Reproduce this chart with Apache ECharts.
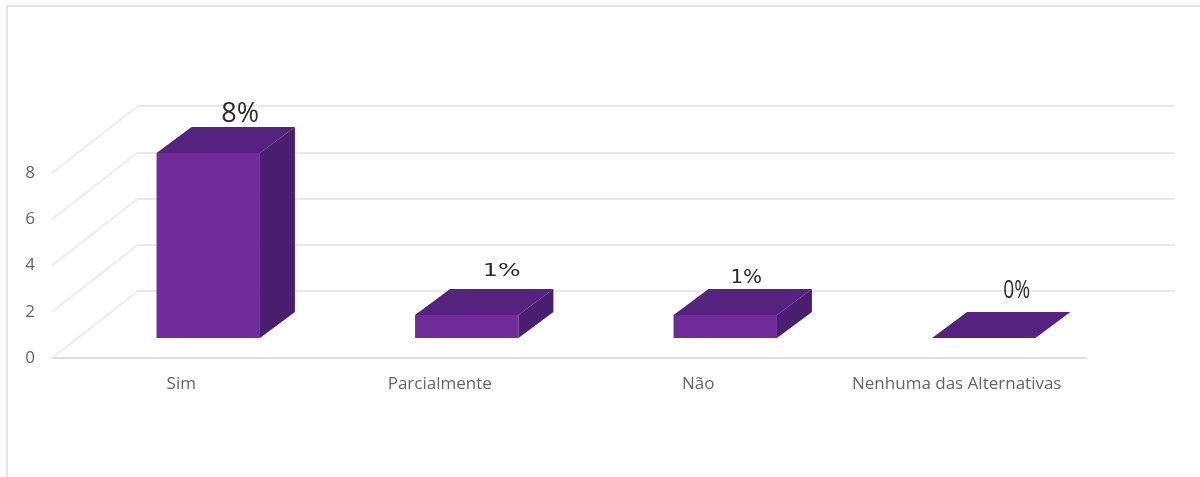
<!DOCTYPE html>
<html>
<head>
<meta charset="utf-8">
<style>html,body{margin:0;padding:0;background:#fff}#chart{width:1200px;height:477px}</style>
<script src="https://cdn.jsdelivr.net/npm/echarts@6/dist/echarts.min.js"></script>
</head>
<body>
<div id="chart"></div>
<script>
const categories = ['Sim', 'Parcialmente', 'Não', 'Nenhuma das Alternativas'];
const percentages = [8, 1, 1, 0];
const yTicks = [0, 2, 4, 6, 8];

// Per-label typography and placement, relative to the front-top centre of each box
const labelStyles = [
  { font: '"Open Sans"', size: 27, scaleX: 1, dx: 32, dy: -39 },
  { font: '"DejaVu Sans"', size: 17, scaleX: 1.4, dx: 35, dy: -43 },
  { font: '"DejaVu Sans"', size: 20, scaleX: 1, dx: 21, dy: -37 },
  { font: '"Open Sans"', size: 25, scaleX: 0.77, dx: 33, dy: -47 }
];

// Oblique projection offsets
const ROOM_DX = 86, ROOM_DY = -67;
const BOX_DX = 35, BOX_DY = -26;
const FRONT = '#6f2c9a', TOP = '#55227f', SIDE = '#4a1f70';
const GRID_LINE = '#e9e9e9', DIAG_LINE = '#efecef', AXIS_TEXT = '#62666a';

const chart = echarts.init(document.getElementById('chart'), null, { renderer: 'canvas' });

function renderDiagonal(params, api) {
  const p = api.coord([0, api.value(0)]);
  const x = params.coordSys.x;
  return {
    type: 'line',
    shape: { x1: x, y1: p[1], x2: x + ROOM_DX, y2: p[1] + ROOM_DY },
    style: { stroke: DIAG_LINE, lineWidth: 2 }
  };
}

function renderBox(params, api) {
  const idx = api.value(0), val = api.value(1);
  const top = api.coord([idx, val]);
  const base = api.coord([idx, 0]);
  const w = api.size([1, 0])[0] * 0.4;
  const l = top[0] - w / 2, r = top[0] + w / 2;
  const t = top[1], b = base[1];
  const poly = (points, fill) => ({
    type: 'polygon', shape: { points }, style: { fill }
  });
  const ls = labelStyles[params.dataIndex];
  return {
    type: 'group',
    children: [
      poly([[r, t], [r + BOX_DX, t + BOX_DY], [r + BOX_DX, b + BOX_DY], [r, b]], SIDE),
      poly([[l, t], [l + BOX_DX, t + BOX_DY], [r + BOX_DX, t + BOX_DY], [r, t]], TOP),
      poly([[l, t], [r, t], [r, b], [l, b]], FRONT),
      {
        type: 'text',
        x: top[0] + ls.dx, y: t + ls.dy,
        scaleX: ls.scaleX,
        style: {
          text: percentages[params.dataIndex] + '%',
          fontFamily: ls.font, fontSize: ls.size,
          fill: '#2b2b2b', align: 'center', verticalAlign: 'middle'
        }
      }
    ]
  };
}

const hiddenCat = gridIndex => ({
  type: 'category', gridIndex, data: categories, show: false
});
const hiddenVal = (gridIndex, splitShow) => ({
  type: 'value', gridIndex, min: 0, max: 8, interval: 2,
  axisLine: { show: false }, axisTick: { show: false }, axisLabel: { show: false },
  splitLine: { show: splitShow, lineStyle: { color: GRID_LINE, width: 2 } }
});

chart.setOption({
  animation: false,
  backgroundColor: '#ffffff',
  graphic: [{
    type: 'rect', silent: true, z: -1,
    shape: { x: 7, y: 6, width: 1300, height: 600 },
    style: { fill: 'none', stroke: '#e4e4e4', lineWidth: 2 }
  }],
  grid: [
    // front plane: carries the axis labels and the floor edge
    { left: 52, top: 173, width: 1034, height: 185 },
    // back wall: carries the horizontal gridlines
    { left: 138, top: 106, width: 1037, height: 185 },
    // middle plane: carries the boxes
    { left: 79, top: 153, width: 1034, height: 185 }
  ],
  xAxis: [
    {
      type: 'category', gridIndex: 0, data: categories,
      axisLine: { lineStyle: { color: '#dedede', width: 2 } },
      axisTick: { show: false },
      axisLabel: {
        color: AXIS_TEXT, fontFamily: '"Open Sans"', fontSize: 17,
        margin: 18, interval: 0
      }
    },
    hiddenCat(1),
    hiddenCat(2)
  ],
  yAxis: [
    {
      type: 'value', gridIndex: 0, min: 0, max: 8, interval: 2,
      axisLine: { show: false }, axisTick: { show: false }, splitLine: { show: false },
      axisLabel: { color: AXIS_TEXT, fontFamily: '"Open Sans"', fontSize: 17, margin: 17 }
    },
    hiddenVal(1, true),
    hiddenVal(2, false)
  ],
  series: [
    {
      type: 'custom', xAxisIndex: 0, yAxisIndex: 0, z: 1,
      renderItem: renderDiagonal,
      data: yTicks.map(v => [v]),
      encode: { y: 0 },
      silent: true
    },
    {
      type: 'custom', xAxisIndex: 2, yAxisIndex: 2, z: 3,
      renderItem: renderBox,
      data: percentages.map((v, i) => [i, v]),
      encode: { x: 0, y: 1 }
    }
  ]
});
</script>
</body>
</html>
